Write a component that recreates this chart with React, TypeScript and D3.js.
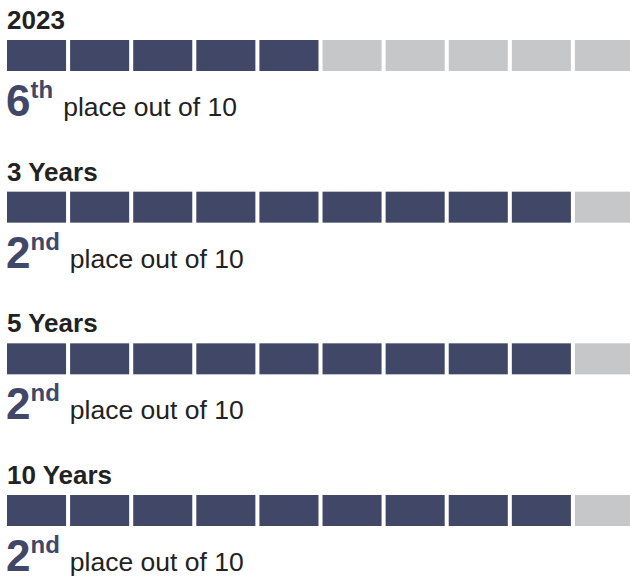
import * as d3 from 'd3';

const periods = ['2023', '3 Years', '5 Years', '10 Years'];
const ranks = [6, 2, 2, 2];
const totalFunds = 10;

const NAVY = '#414867';
const GREY = '#c6c7c9';
const INK = '#222222';

function suffix(n: number) {
  if (n % 100 >= 11 && n % 100 <= 13) return 'th';
  if (n % 10 === 1) return 'st';
  if (n % 10 === 2) return 'nd';
  if (n % 10 === 3) return 'rd';
  return 'th';
}

export default function App() {
  const width = 630;
  const height = 579;

  // row position = top of the bar strip
  const y = d3.scalePoint<string>().domain(periods).range([40, 495]);

  const cells = d3.range(totalFunds);
  const x = d3
    .scaleBand<number>()
    .domain(cells)
    .range([7, 634])
    .paddingInner(0.064)
    .paddingOuter(0);

  const barH = 31;

  return (
    <svg
      width={width}
      height={height}
      style={{ position: 'absolute', left: 0, top: 0, background: '#fff' }}
      fontFamily="'Liberation Sans', Arial, sans-serif"
    >
      {periods.map((p, i) => {
        const top = y(p) ?? 0;
        const rank = ranks[i];
        // cells filled = funds beaten + the fund itself
        const filled = totalFunds - rank + 1;
        return (
          <g key={p}>
            <text x={7} y={top - 11} fontSize={26} fontWeight="bold" fill={INK}>
              {p}
            </text>
            {cells.map(c => (
              <rect
                key={c}
                x={x(c)}
                y={top}
                width={x.bandwidth()}
                height={barH}
                fill={c < filled ? NAVY : GREY}
              />
            ))}
            <text x={6} y={top + 76} fill={NAVY} fontWeight="bold">
              <tspan fontSize={44}>{rank}</tspan>
              <tspan fontSize={24} dy={-18}>{suffix(rank)}</tspan>
              <tspan fontSize={26.5} fontWeight="normal" fill={INK} dy={18} dx={10}>
                place out of {totalFunds}
              </tspan>
            </text>
          </g>
        );
      })}
    </svg>
  );
}
